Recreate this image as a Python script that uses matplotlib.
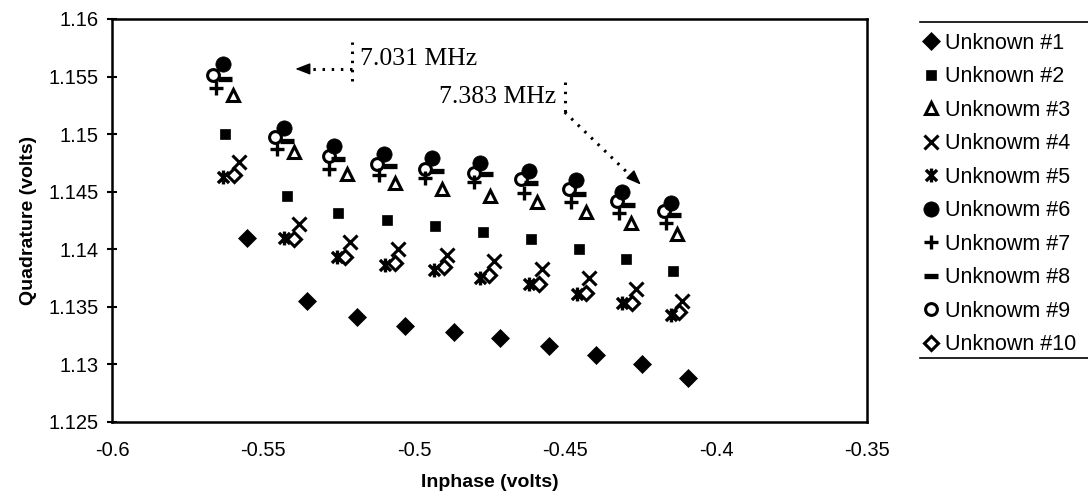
import matplotlib
matplotlib.use('Agg')
import matplotlib.pyplot as plt
from matplotlib.path import Path
from matplotlib.lines import Line2D

# ---------------- data ----------------
labels = ['Unknown #1', 'Unknown #2', 'Unknowm #3', 'Unknowm #4', 'Unknowm #5',
          'Unknowm #6', 'Unknowm #7', 'Unknowm #8', 'Unknowm #9', 'Unknown #10']

x1 = [-0.5553, -0.5354, -0.5189, -0.5029, -0.4868, -0.4714, -0.4553, -0.4399, -0.4244, -0.4092]
y1 = [1.1410, 1.1355, 1.1341, 1.1333, 1.1328, 1.1323, 1.1316, 1.1308, 1.1300, 1.1288]

x2 = [-0.5625, -0.5421, -0.5252, -0.5090, -0.4929, -0.4771, -0.4612, -0.4454, -0.4299, -0.4144]
y2 = [1.1500, 1.1446, 1.1431, 1.1425, 1.1420, 1.1415, 1.1409, 1.1400, 1.1391, 1.1381]

x3 = [-0.5600, -0.5399, -0.5222, -0.5062, -0.4907, -0.4747, -0.4592, -0.4432, -0.4282, -0.4128]
y3 = [1.1534, 1.1484, 1.1465, 1.1457, 1.1452, 1.1446, 1.1441, 1.1432, 1.1423, 1.1413]

x4 = [-0.5581, -0.5382, -0.5211, -0.5054, -0.4890, -0.4736, -0.4575, -0.4421, -0.4266, -0.4111]
y4 = [1.1476, 1.1422, 1.1406, 1.1400, 1.1395, 1.1390, 1.1383, 1.1375, 1.1365, 1.1355]

x5 = [-0.5631, -0.5432, -0.5255, -0.5095, -0.4935, -0.4780, -0.4620, -0.4459, -0.4310, -0.4150]
y5 = [1.1463, 1.1410, 1.1393, 1.1386, 1.1382, 1.1375, 1.1370, 1.1361, 1.1353, 1.1343]

x6 = [-0.5633, -0.5432, -0.5266, -0.5100, -0.4940, -0.4780, -0.4620, -0.4465, -0.4310, -0.4150]
y6 = [1.1561, 1.1505, 1.1490, 1.1483, 1.1479, 1.1475, 1.1468, 1.1460, 1.1450, 1.1440]

x7 = [-0.5655, -0.5454, -0.5283, -0.5117, -0.4962, -0.4802, -0.4636, -0.4481, -0.4321, -0.4166]
y7 = [1.1540, 1.1487, 1.1470, 1.1464, 1.1462, 1.1458, 1.1449, 1.1441, 1.1431, 1.1423]

x8 = [-0.5625, -0.5421, -0.5252, -0.5081, -0.4923, -0.4763, -0.4614, -0.4454, -0.4293, -0.4139]
y8 = [1.1548, 1.1494, 1.1478, 1.1472, 1.1468, 1.1465, 1.1457, 1.1448, 1.1438, 1.1430]

x9 = [-0.5664, -0.5460, -0.5283, -0.5122, -0.4962, -0.4802, -0.4647, -0.4487, -0.4327, -0.4172]
y9 = [1.1551, 1.1497, 1.1481, 1.1474, 1.1470, 1.1466, 1.1461, 1.1452, 1.1442, 1.1433]

x10 = [-0.5596, -0.5399, -0.5227, -0.5062, -0.4902, -0.4752, -0.4587, -0.4432, -0.4277, -0.4122]
y10 = [1.1464, 1.1409, 1.1393, 1.1388, 1.1384, 1.1377, 1.1370, 1.1362, 1.1353, 1.1345]

x_ticks = [-0.6, -0.55, -0.5, -0.45, -0.4, -0.35]
x_ticklabels = ['-0.6', '-0.55', '-0.5', '-0.45', '-0.4', '-0.35']
y_ticks = [1.125, 1.13, 1.135, 1.14, 1.145, 1.15, 1.155, 1.16]
y_ticklabels = ['1.125', '1.13', '1.135', '1.14', '1.145', '1.15', '1.155', '1.16']

ann1_text = '7.031 MHz'
ann2_text = '7.383 MHz'

# ---------------- style ----------------
plt.rcParams['font.family'] = ['Liberation Sans', 'DejaVu Sans']

asterisk = Path([(-1, -1), (1, 1), (-1, 1), (1, -1), (0, -1.25), (0, 1.25)],
                [Path.MOVETO, Path.LINETO, Path.MOVETO, Path.LINETO, Path.MOVETO, Path.LINETO])

styles = [
    dict(marker='D', ms=9.5, mfc='k', mec='k', mew=0.5),
    dict(marker='s', ms=7.5, mfc='k', mec='k', mew=0.5),
    dict(marker='^', ms=9, mfc='none', mec='k', mew=2.2),
    dict(marker='x', ms=10.5, mfc='none', mec='k', mew=2.2),
    dict(marker=asterisk, ms=10, mfc='none', mec='k', mew=2.4),
    dict(marker='o', ms=11, mfc='k', mec='k', mew=0.5),
    dict(marker='+', ms=10.5, mfc='none', mec='k', mew=2.4),
    dict(marker='_', ms=10.5, mfc='none', mec='k', mew=3.8),
    dict(marker='o', ms=8.5, mfc='none', mec='k', mew=2.2),
    dict(marker='D', ms=7.5, mfc='none', mec='k', mew=2.2),
]

xs = [x1, x2, x3, x4, x5, x6, x7, x8, x9, x10]
ys = [y1, y2, y3, y4, y5, y6, y7, y8, y9, y10]

W, H = 1088, 503
fig = plt.figure(figsize=(W / 100, H / 100), dpi=100)
fig.patch.set_facecolor('white')
ax = fig.add_axes([112 / W, 1 - 421.5 / H, (867 - 112) / W, (421.5 - 19) / H])

handles = []
for x, y, st, lab in zip(xs, ys, styles, labels):
    ln, = ax.plot(x, y, linestyle='none', color='k', label=lab, **st)
    handles.append(ln)

ax.set_xlim(-0.6, -0.35)
ax.set_ylim(1.125, 1.16)
ax.set_xticks(x_ticks)
ax.set_xticklabels(x_ticklabels)
ax.set_yticks(y_ticks)
ax.set_yticklabels(y_ticklabels)
ax.tick_params(axis='x', length=0, labelsize=14.5, pad=14)
ax.tick_params(axis='y', direction='inout', length=7, width=1.5, labelsize=14.5, pad=6)
for sp in ax.spines.values():
    sp.set_linewidth(1.8)

ax.set_xlabel('Inphase (volts)', fontsize=14, fontweight='bold', labelpad=10)
ax.set_ylabel('Quadrature (volts)', fontsize=14, fontweight='bold', labelpad=8)

# ---------------- annotations ----------------
dot = dict(color='k', lw=2.2, linestyle=(0, (0.8, 2.2)), dash_capstyle='butt')
ax.plot([-0.5205, -0.5205], [1.1546, 1.1580], **dot)
ax.plot([-0.5205, -0.5355], [1.15566, 1.15566], **dot)
ax.annotate('', xy=(-0.5393, 1.15566), xytext=(-0.5350, 1.15566),
            arrowprops=dict(arrowstyle='-|>,head_length=0.9,head_width=0.35',
                            color='k', lw=1.0, shrinkA=0, shrinkB=0))
ax.text(-0.5180, 1.1565, ann1_text, family='Liberation Serif', fontsize=18.5,
        ha='left', va='center')

ax.plot([-0.4501, -0.4501], [1.1519, 1.1547], **dot)
ax.plot([-0.4501, -0.4272], [1.1519, 1.1461], **dot)
ax.annotate('', xy=(-0.4249, 1.1456), xytext=(-0.4282, 1.14645),
            arrowprops=dict(arrowstyle='-|>,head_length=0.9,head_width=0.35',
                            color='k', lw=1.0, shrinkA=0, shrinkB=0))
ax.text(-0.4528, 1.1532, ann2_text, family='Liberation Serif', fontsize=18.5,
        ha='right', va='center')

# ---------------- legend ----------------
leg = fig.legend(handles=handles, labels=labels, loc='upper left',
                 bbox_to_anchor=(921 / W, 1 - 33 / H), frameon=False,
                 fontsize=15.5, handlelength=0.9, handletextpad=0.2,
                 labelspacing=0.58, borderaxespad=0, borderpad=0)
fig.add_artist(Line2D([920 / W, 1.0], [1 - 22 / H, 1 - 22 / H], color='k', lw=1.2,
                      transform=fig.transFigure))
fig.add_artist(Line2D([920 / W, 1.0], [1 - 358 / H, 1 - 358 / H], color='k', lw=1.2,
                      transform=fig.transFigure))

fig.savefig('out.png', dpi=100, facecolor='white')
